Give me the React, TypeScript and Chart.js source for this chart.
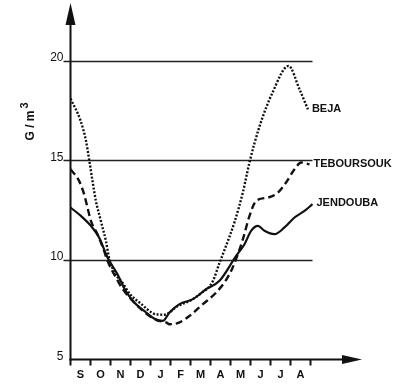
import React, { useEffect, useRef } from "react";
import { Chart, registerables } from "chart.js";

Chart.register(...registerables);

const months = ["S", "O", "N", "D", "J", "F", "M", "A", "M", "J", "J", "A"];
const yTicks = [5, 10, 15, 20];
const gridValues = [10, 15, 20];

const bejaX = [0, 0.5, 0.77, 0.93, 1.1, 1.27, 1.52, 1.77, 1.93, 2.27, 2.6, 3.0, 3.45, 4.28, 4.7, 5.37, 5.95, 6.5, 7.1, 7.45, 7.7, 8.2, 8.62, 8.95, 9.45, 10.1, 10.9, 11.45, 11.87];
const bejaY = [18.1, 17.0, 16.0, 15.05, 13.96, 12.96, 11.95, 10.95, 10.1, 9.26, 8.85, 8.25, 7.86, 7.27, 7.25, 7.69, 7.94, 8.3, 8.9, 9.85, 10.5, 11.9, 13.4, 14.9, 16.7, 18.4, 19.74, 18.57, 17.56];

const tebX = [0, 0.43, 0.68, 0.85, 1.02, 1.35, 1.68, 1.85, 2.27, 2.6, 3.2, 3.8, 4.3, 4.78, 4.95, 5.45, 5.95, 6.62, 7.28, 7.75, 8.1, 8.3, 8.62, 8.95, 9.28, 9.87, 10.37, 10.78, 11.2, 11.53, 11.95];
const tebY = [14.55, 13.97, 13.3, 12.63, 11.96, 11.29, 10.45, 9.95, 9.12, 8.55, 7.85, 7.3, 6.98, 6.86, 6.77, 6.86, 7.19, 7.78, 8.36, 8.95, 9.6, 10.1, 11.04, 12.21, 12.96, 13.13, 13.38, 13.89, 14.55, 14.89, 14.8];

const jenX = [0, 0.52, 1.02, 1.43, 1.85, 2.35, 2.7, 3.12, 3.78, 4.2, 4.62, 4.95, 5.45, 6.12, 6.78, 7.45, 8.28, 8.7, 9.03, 9.37, 9.7, 10.2, 10.7, 11.2, 11.7, 12.1];
const jenY = [12.63, 12.21, 11.71, 11.12, 10.12, 9.28, 8.55, 7.94, 7.36, 7.05, 6.94, 7.36, 7.78, 8.03, 8.53, 8.95, 10.2, 10.79, 11.46, 11.71, 11.46, 11.29, 11.63, 12.13, 12.46, 12.8];

const seriesNames = ["BEJA", "TEBOURSOUK", "JENDOUBA"];

const toPoints = (xs: number[], ys: number[]) => xs.map((x, i) => ({ x, y: ys[i] }));

const INK = "#111";

const decorPlugin = {
  id: "decor",
  beforeDatasetsDraw(chart: any) {
    const { ctx, scales } = chart;
    const xs = scales.x;
    const ys = scales.y;
    const x0 = xs.getPixelForValue(0);
    const y0 = ys.getPixelForValue(5);
    ctx.save();
    // gridlines
    ctx.strokeStyle = "#222";
    ctx.lineWidth = 1.4;
    gridValues.forEach((v) => {
      const py = Math.round(ys.getPixelForValue(v)) + 0.5;
      ctx.beginPath();
      ctx.moveTo(x0 - 7, py);
      ctx.lineTo(xs.getPixelForValue(12.1), py);
      ctx.stroke();
    });
    // axes
    ctx.strokeStyle = INK;
    ctx.lineWidth = 2;
    ctx.beginPath();
    ctx.moveTo(x0, y0 + 1);
    ctx.lineTo(x0, ys.getPixelForValue(22));
    ctx.stroke();
    ctx.beginPath();
    ctx.moveTo(x0 - 1, y0);
    ctx.lineTo(xs.getPixelForValue(13.7), y0);
    ctx.stroke();
    // arrows
    ctx.fillStyle = INK;
    const yTop = chart.chartArea.top + 2;
    ctx.beginPath();
    ctx.moveTo(x0, yTop);
    ctx.lineTo(x0 - 5, yTop + 22);
    ctx.lineTo(x0 + 5, yTop + 22);
    ctx.closePath();
    ctx.fill();
    const xTip = chart.chartArea.right;
    ctx.beginPath();
    ctx.moveTo(xTip, y0);
    ctx.lineTo(xTip - 20, y0 - 4.5);
    ctx.lineTo(xTip - 20, y0 + 4.5);
    ctx.closePath();
    ctx.fill();
    // x ticks
    ctx.lineWidth = 2;
    for (let i = 0; i <= 12; i++) {
      const px = xs.getPixelForValue(i);
      ctx.beginPath();
      ctx.moveTo(px, y0);
      ctx.lineTo(px, y0 + 6);
      ctx.stroke();
    }
    // y tick labels
    ctx.font = "12px 'Liberation Sans', Arial, sans-serif";
    ctx.textAlign = "right";
    ctx.textBaseline = "alphabetic";
    yTicks.forEach((v) => {
      ctx.fillText(String(v), x0 - 7, ys.getPixelForValue(v) + 0.5);
    });
    // month labels
    ctx.font = "bold 11px 'Liberation Sans', Arial, sans-serif";
    ctx.textAlign = "center";
    ctx.textBaseline = "middle";
    months.forEach((m, i) => {
      ctx.fillText(m, xs.getPixelForValue(i + 0.5), y0 + 15);
    });
    // y axis title
    ctx.save();
    ctx.translate(30, ys.getPixelForValue(16.95));
    ctx.rotate(-Math.PI / 2);
    ctx.font = "bold 12px 'Liberation Sans', Arial, sans-serif";
    ctx.textAlign = "center";
    ctx.textBaseline = "middle";
    ctx.fillText("G / m", -4, 1);
    ctx.font = "bold 11px 'Liberation Sans', Arial, sans-serif";
    ctx.fillText("3", 16, -5);
    ctx.restore();
    ctx.restore();
  },
  afterDatasetsDraw(chart: any) {
    const { ctx } = chart;
    ctx.save();
    ctx.fillStyle = INK;
    ctx.font = "bold 11px 'Liberation Sans', Arial, sans-serif";
    ctx.textAlign = "left";
    ctx.textBaseline = "middle";
    chart.data.datasets.forEach((ds: any, i: number) => {
      const meta = chart.getDatasetMeta(i);
      const last = meta.data[meta.data.length - 1];
      const offs = [4, 4, 4];
      const dy = [0, 0, -1];
      ctx.fillText(seriesNames[i], last.x + offs[i], last.y + dy[i]);
    });
    ctx.restore();
  },
};

export default function App() {
  const ref = useRef<HTMLCanvasElement | null>(null);
  useEffect(() => {
    if (!ref.current) return;
    const chart = new Chart(ref.current, {
      type: "line",
      data: {
        datasets: [
          {
            label: seriesNames[0],
            data: toPoints(bejaX, bejaY),
            borderColor: INK,
            borderWidth: 2.4,
            borderDash: [2, 1.7],
            borderCapStyle: "butt",
            pointRadius: 0,
            cubicInterpolationMode: "monotone",
            fill: false,
          },
          {
            label: seriesNames[1],
            data: toPoints(tebX, tebY),
            borderColor: INK,
            borderWidth: 2.4,
            borderDash: [7, 4],
            pointRadius: 0,
            cubicInterpolationMode: "monotone",
            fill: false,
          },
          {
            label: seriesNames[2],
            data: toPoints(jenX, jenY),
            borderColor: INK,
            borderWidth: 2.2,
            pointRadius: 0,
            cubicInterpolationMode: "monotone",
            fill: false,
          },
        ],
      },
      options: {
        animation: false,
        responsive: false,
        devicePixelRatio: 1,
        layout: { padding: { left: 70.5, right: 32, top: 1, bottom: 24.5 } },
        plugins: { legend: { display: false }, tooltip: { enabled: false } },
        scales: {
          x: { type: "linear", min: 0, max: 14.575, display: false },
          y: { type: "linear", min: 5, max: 23, display: false },
        },
      } as any,
      plugins: [decorPlugin],
    });
    return () => chart.destroy();
  }, []);
  return (
    <div style={{ position: "fixed", left: 0, top: 0, width: 394, height: 384, background: "#fff" }}>
      <canvas ref={ref} width={394} height={384} style={{ display: "block" }} />
    </div>
  );
}
